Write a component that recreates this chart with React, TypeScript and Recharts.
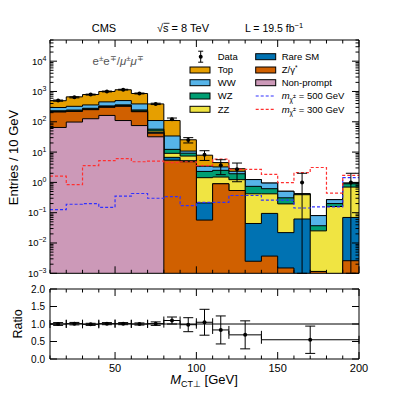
import React from 'react';
import { ComposedChart, Area, Line, Scatter, ErrorBar, XAxis, YAxis, ReferenceLine } from 'recharts';

const FONT = '"Liberation Sans", Arial, Helvetica, sans-serif';

// ---------- data (Entries / 10 GeV), bins of 10 GeV from 10 to 200 ----------
const binLowEdges = [10, 20, 30, 40, 50, 60, 70, 80, 90, 100, 110, 120, 130, 140, 150, 160, 170, 180, 190];
const xMax = 200;

const nonPrompt = [65, 98, 126, 162, 110, 75, 32, 0, 0, 0, 0, 0, 0, 0, 0, 0, 0, 0, 0];
const zGamma = [145, 122, 125, 138, 214, 140, 10, 5.4, 4.8, 0.057, 0.9, 0.54, 0.0025, 0.0037, 0.0015, 0, 0.00115, 0, 0.0026];
const rareSM = [3, 3, 4, 5, 5, 4, 3, 1.3, 0.4, 0.153, 0, 0, 0.0415, 0.091, 0.0205, 0.062, 0, 0, 0.067];
const zz = [6, 7, 8, 10, 11, 9, 5, 2.4, 2.2, 1.22, 0.6, 0.69, 0.376, 0.325, 0.173, 0.33, 0.024, 0.16, 0.63];
const wz = [12, 14, 16, 20, 22, 18, 7, 3.2, 1.8, 0.87, 1.0, 0.7, 0.32, 0.2, 0.115, 0.02, 0.012, 0.04, 0.2];
const ww = [65, 80, 81, 119, 139, 143, 53, 21.7, 1.6, 1.1, 0.74, 0.4, 0.5, 0.33, 0.2, 0.01, 0.043, 0.07, 0.05];
const topQuark = [200, 340, 434, 546, 639, 469, 279, 76, 14.7, 4.5, 1.26, 0.5, 0, 0, 0, 0, 0, 0, 0];

const sig500 = [0.126, 0.19, 0.2, 0.15, 0.35, 0.43, 0.3, 0.34, 0.17, 0.22, 0.22, 0.37, 0.37, 0.26, 0.26, 0.143, 0.155, 0.155, 1.43];
const sig300 = [1.6, 0.85, 3.6, 5.2, 6.1, 4.8, 5.0, 4.5, 4.8, 3.6, 5.9, 2.7, 2.7, 1.85, 0.98, 2.1, 3.1, 0.44, 1.7];

const dataCounts: (number | null)[] = [500, 640, 790, 1000, 1150, 860, 390, 122, 25, 8.2, 3.7, 2.7, null, null, null, 1.0, null, null, 1.0];
const dataErrLow = [22, 25, 28, 32, 34, 29, 20, 11, 5, 2.9, 1.9, 1.65, 0, 0, 0, 0.999, 0, 0, 0.999];
const dataErrHigh = [22, 25, 28, 32, 34, 29, 20, 11, 5, 2.9, 1.9, 1.65, 0, 0, 0, 1.0, 0, 0, 1.0];

// ratio panel
const ratioCenters = [15, 25, 35, 45, 55, 65, 75, 85, 95, 105, 115, 130, 170];
const ratioHalfWidths = [5, 5, 5, 5, 5, 5, 5, 5, 5, 5, 5, 10, 30];
const ratioValues = [1.0, 1.01, 0.99, 1.01, 1.01, 1.0, 1.01, 1.1, 0.98, 1.05, 0.83, 0.69, 0.55];
const ratioErrors = [0.04, 0.035, 0.03, 0.03, 0.03, 0.03, 0.05, 0.1, 0.2, 0.37, 0.4, 0.4, 0.39];

// ticks
const xTicks = [10, 20, 30, 40, 50, 60, 70, 80, 90, 100, 110, 120, 130, 140, 150, 160, 170, 180, 190, 200];
const yMajorTicks = [1e-3, 1e-2, 1e-1, 1, 10, 100, 1000, 10000];
const yMax = 5e4;
const ratioTicks = [0, 0.5, 1, 1.5, 2];

// ---------- tables built from the arrays ----------
const FLOOR = 1e-4;
const layers = [nonPrompt, zGamma, rareSM, zz, wz, ww, topQuark];
const layerKeys = ['cNP', 'cZ', 'cRare', 'cZZ', 'cWZ', 'cWW', 'cTop'];

const histRows = [...binLowEdges, xMax].map((x, i) => {
  const b = Math.min(i, binLowEdges.length - 1);
  const row: any = { x };
  let s = 0;
  layers.forEach((arr, k) => {
    s += arr[b];
    row[layerKeys[k]] = Math.max(s, FLOOR);
  });
  row.s300 = sig300[b];
  row.s500 = sig500[b];
  return row;
});

const dataRows = binLowEdges
  .map((lo, i) => ({ x: lo + 5, y: dataCounts[i], err: [dataErrLow[i], dataErrHigh[i]] }))
  .filter((r) => r.y !== null);

const ratioRows = ratioCenters.map((x, i) => ({ x, y: ratioValues[i], xerr: ratioHalfWidths[i], yerr: ratioErrors[i] }));

const yTicksAll: number[] = [];
yMajorTicks.forEach((d) => {
  for (let k = 1; k <= 9; k++) {
    const v = d * k;
    if (v <= yMax * 1.0001) yTicksAll.push(v);
  }
});

const colors = {
  top: '#E69F00',
  ww: '#56B4E9',
  wz: '#009E73',
  zz: '#F0E442',
  rare: '#0072B2',
  z: '#D06000',
  np: '#CC99B8',
  s500: '#3030FF',
  s300: '#FF3030',
};

// ---------- tick renderers ----------
const MAJ = 7;
const MIN = 3.5;

const xTick = (side: 'bottom' | 'top', labels: boolean) => (p: any) => {
  const v = p.payload.value;
  const major = Math.abs(v % 50) < 1e-6;
  const len = major ? MAJ : MIN;
  const dir = side === 'bottom' ? -1 : 1;
  return (
    <g>
      <line x1={p.x} x2={p.x} y1={p.y} y2={p.y + dir * len} stroke="#000" strokeWidth={1} />
      {labels && major ? (
        <text x={p.x} y={p.y + 13} textAnchor="middle" fontSize={11} fontFamily={FONT} fill="#000">
          {v}
        </text>
      ) : null}
    </g>
  );
};

const logTick = (side: 'left' | 'right', labels: boolean) => (p: any) => {
  const v = p.payload.value;
  const lg = Math.log10(v);
  const e = Math.round(lg);
  const major = Math.abs(lg - e) < 1e-6;
  const len = major ? MAJ : MIN;
  const dir = side === 'left' ? 1 : -1;
  return (
    <g>
      <line x1={p.x} x2={p.x + dir * len} y1={p.y} y2={p.y} stroke="#000" strokeWidth={1} />
      {labels && major ? (
        <text x={p.x - 3.5} y={p.y + 3.5} textAnchor="end" fontSize={9.5} fontFamily={FONT} fill="#000">
          10
          <tspan dy={-4} fontSize={7}>
            {e < 0 ? '\u2212' + -e : String(e)}
          </tspan>
        </text>
      ) : null}
    </g>
  );
};

const linTick = (side: 'left' | 'right', labels: boolean) => (p: any) => {
  const v = p.payload.value;
  const dir = side === 'left' ? 1 : -1;
  return (
    <g>
      <line x1={p.x} x2={p.x + dir * MAJ} y1={p.y} y2={p.y} stroke="#000" strokeWidth={1} />
      {labels ? (
        <text x={p.x - 5} y={p.y + 3.5} textAnchor="end" fontSize={10} fontFamily={FONT} fill="#000">
          {v.toFixed(1)}
        </text>
      ) : null}
    </g>
  );
};

const dot = (p: any) => <circle cx={p.cx} cy={p.cy} r={2} fill="#000" />;

const axisLine = { stroke: '#000', strokeWidth: 1 };

function Legend() {
  const rows = [56.7, 70, 82.7, 96, 109.3];
  const c1box = 190;
  const c1txt = 217.7;
  const c2box = 255.7;
  const c2txt = 281.7;
  const bw = 20;
  const bh = 6;
  const fs = 9.5;
  const box = (x: number, y: number, fill: string) => (
    <rect x={x} y={y - bh / 2} width={bw} height={bh} fill={fill} stroke="#000" strokeWidth={1} />
  );
  const txt = (x: number, y: number, children: any) => (
    <text x={x} y={y + 3.4} fontSize={fs} fontFamily={FONT} fill="#000">
      {children}
    </text>
  );
  const mchi = (val: string) => (
    <>
      <tspan fontStyle="italic">m</tspan>
      <tspan dy={2.5} fontSize={6.5}>{'\u03C7\u0303'}</tspan>
      <tspan dy={-4} fontSize={5.5}>±</tspan>
      <tspan dy={1.5} fontSize={fs}>{' = ' + val + ' GeV'}</tspan>
    </>
  );
  const mx = c1box + 10.7;
  return (
    <g>
      <line x1={mx} x2={mx} y1={rows[0] - 5.5} y2={rows[0] + 5.5} stroke="#000" />
      <line x1={mx - 2.5} x2={mx + 2.5} y1={rows[0] - 5.5} y2={rows[0] - 5.5} stroke="#000" />
      <line x1={mx - 2.5} x2={mx + 2.5} y1={rows[0] + 5.5} y2={rows[0] + 5.5} stroke="#000" />
      <circle cx={mx} cy={rows[0]} r={2} fill="#000" />
      {txt(c1txt, rows[0], 'Data')}
      {box(c1box, rows[1], colors.top)}
      {txt(c1txt, rows[1], 'Top')}
      {box(c1box, rows[2], colors.ww)}
      {txt(c1txt, rows[2], 'WW')}
      {box(c1box, rows[3], colors.wz)}
      {txt(c1txt, rows[3], 'WZ')}
      {box(c1box, rows[4], colors.zz)}
      {txt(c1txt, rows[4], 'ZZ')}
      {box(c2box, rows[0], colors.rare)}
      {txt(c2txt, rows[0], 'Rare SM')}
      {box(c2box, rows[1], colors.z)}
      {txt(c2txt, rows[1], (
        <>
          Z/γ<tspan dy={-3.5} fontSize={6.5}>*</tspan>
        </>
      ))}
      {box(c2box, rows[2], colors.np)}
      {txt(c2txt, rows[2], 'Non-prompt')}
      <line x1={c2box} x2={c2box + bw} y1={rows[3]} y2={rows[3]} stroke={colors.s500} strokeWidth={1.2} strokeDasharray="3 2" />
      {txt(c2txt, rows[3], mchi('500'))}
      <line x1={c2box} x2={c2box + bw} y1={rows[4]} y2={rows[4]} stroke={colors.s300} strokeWidth={1.2} strokeDasharray="3 2" />
      {txt(c2txt, rows[4], mchi('300'))}
    </g>
  );
}

export default function App() {
  return (
    <div style={{ position: 'absolute', left: 0, top: 0, width: 399, height: 399, background: '#fff', fontFamily: FONT }}>
      <div style={{ position: 'absolute', left: 0, top: 0 }}>
        <ComposedChart width={399} height={290} data={histRows} margin={{ top: 30, right: 30, bottom: 6.7, left: 10 }}>
          <XAxis xAxisId="m" dataKey="x" type="number" domain={[10, 200]} allowDataOverflow ticks={xTicks} interval={0}
            orientation="bottom" height={10} tickSize={0} tickMargin={0} tickLine={false} tick={xTick('bottom', false)} axisLine={axisLine} />
          <XAxis xAxisId="mt" dataKey="x" type="number" domain={[10, 200]} allowDataOverflow ticks={xTicks} interval={0}
            orientation="top" height={10} tickSize={0} tickMargin={0} tickLine={false} tick={xTick('top', false)} axisLine={axisLine} />
          <YAxis yAxisId="m" type="number" scale="log" domain={[1e-3, yMax]} allowDataOverflow ticks={yTicksAll} interval={0}
            orientation="left" width={40} tickSize={0} tickMargin={0} tickLine={false} tick={logTick('left', true)} axisLine={axisLine} />
          <YAxis yAxisId="mr" type="number" scale="log" domain={[1e-3, yMax]} allowDataOverflow ticks={yTicksAll} interval={0}
            orientation="right" width={10} tickSize={0} tickMargin={0} tickLine={false} tick={logTick('right', false)} axisLine={axisLine} />
          <Area xAxisId="m" yAxisId="m" type="stepAfter" dataKey="cTop" baseValue={1e-3} fill={colors.top} fillOpacity={1} stroke="#000" strokeWidth={1} dot={false} activeDot={false} isAnimationActive={false} />
          <Area xAxisId="m" yAxisId="m" type="stepAfter" dataKey="cWW" baseValue={1e-3} fill={colors.ww} fillOpacity={1} stroke="#000" strokeWidth={1} dot={false} activeDot={false} isAnimationActive={false} />
          <Area xAxisId="m" yAxisId="m" type="stepAfter" dataKey="cWZ" baseValue={1e-3} fill={colors.wz} fillOpacity={1} stroke="#000" strokeWidth={1} dot={false} activeDot={false} isAnimationActive={false} />
          <Area xAxisId="m" yAxisId="m" type="stepAfter" dataKey="cZZ" baseValue={1e-3} fill={colors.zz} fillOpacity={1} stroke="#000" strokeWidth={1} dot={false} activeDot={false} isAnimationActive={false} />
          <Area xAxisId="m" yAxisId="m" type="stepAfter" dataKey="cRare" baseValue={1e-3} fill={colors.rare} fillOpacity={1} stroke="#000" strokeWidth={1} dot={false} activeDot={false} isAnimationActive={false} />
          <Area xAxisId="m" yAxisId="m" type="stepAfter" dataKey="cZ" baseValue={1e-3} fill={colors.z} fillOpacity={1} stroke="#000" strokeWidth={1} dot={false} activeDot={false} isAnimationActive={false} />
          <Area xAxisId="m" yAxisId="m" type="stepAfter" dataKey="cNP" baseValue={1e-3} fill={colors.np} fillOpacity={1} stroke="#000" strokeWidth={1} dot={false} activeDot={false} isAnimationActive={false} />
          <Line xAxisId="m" yAxisId="m" type="stepAfter" dataKey="s500" stroke={colors.s500} strokeWidth={1.2} strokeDasharray="3 2" dot={false} activeDot={false} isAnimationActive={false} />
          <Line xAxisId="m" yAxisId="m" type="stepAfter" dataKey="s300" stroke={colors.s300} strokeWidth={1.2} strokeDasharray="3 2" dot={false} activeDot={false} isAnimationActive={false} />
          <Scatter xAxisId="m" yAxisId="m" data={dataRows} dataKey="y" shape={dot} isAnimationActive={false}>
            <ErrorBar dataKey="err" direction="y" width={5} stroke="#000" strokeWidth={1} />
          </Scatter>
        </ComposedChart>
      </div>
      <div style={{ position: 'absolute', left: 0, top: 279 }}>
        <ComposedChart width={399} height={120} data={ratioRows} margin={{ top: 0, right: 30, bottom: 30, left: 10 }}>
          <XAxis xAxisId="r" dataKey="x" type="number" domain={[10, 200]} allowDataOverflow ticks={xTicks} interval={0}
            orientation="bottom" height={10} tickSize={0} tickMargin={0} tickLine={false} tick={xTick('bottom', true)} axisLine={axisLine} />
          <XAxis xAxisId="rt" dataKey="x" type="number" domain={[10, 200]} allowDataOverflow ticks={xTicks} interval={0}
            orientation="top" height={10} tickSize={0} tickMargin={0} tickLine={false} tick={xTick('top', false)} axisLine={axisLine} />
          <YAxis yAxisId="r" type="number" domain={[0, 2]} allowDataOverflow ticks={ratioTicks} interval={0}
            orientation="left" width={40} tickSize={0} tickMargin={0} tickLine={false} tick={linTick('left', true)} axisLine={axisLine} />
          <YAxis yAxisId="rr" type="number" domain={[0, 2]} allowDataOverflow ticks={ratioTicks} interval={0}
            orientation="right" width={10} tickSize={0} tickMargin={0} tickLine={false} tick={linTick('right', false)} axisLine={axisLine} />
          <ReferenceLine xAxisId="r" yAxisId="r" y={1} stroke="#000" strokeWidth={1} />
          <Scatter xAxisId="r" yAxisId="r" dataKey="y" shape={dot} isAnimationActive={false}>
            <ErrorBar dataKey="xerr" direction="x" width={4} stroke="#000" strokeWidth={1} />
            <ErrorBar dataKey="yerr" direction="y" width={5} stroke="#000" strokeWidth={1} />
          </Scatter>
        </ComposedChart>
      </div>
      <svg width={399} height={399} style={{ position: 'absolute', left: 0, top: 0, pointerEvents: 'none' }}>
        <text x={104} y={32} textAnchor="middle" fontSize={11} fontFamily={FONT} fill="#000">CMS</text>
        <text x={157} y={32} fontSize={11} fontFamily={FONT} fill="#000">√s = 8 TeV</text>
        <line x1={163.5} x2={169.5} y1={23.3} y2={23.3} stroke="#000" strokeWidth={0.8} />
        <text x={245} y={32} fontSize={10.5} fontFamily={FONT} fill="#000">
          L = 19.5 fb<tspan dy={-4.5} fontSize={7.5}>{'\u22121'}</tspan>
        </text>
        <text x={92.5} y={65} fontSize={11.5} fontFamily={FONT} fill="#555">
          e<tspan dy={-4.5} fontSize={8}>±</tspan>
          <tspan dy={4.5}>e</tspan>
          <tspan dy={-4.5} fontSize={8}>∓</tspan>
          <tspan dy={4.5}>/</tspan>
          <tspan fontStyle="italic">μ</tspan>
          <tspan dy={-4.5} fontSize={8}>±</tspan>
          <tspan dy={4.5} fontStyle="italic">μ</tspan>
          <tspan dy={-4.5} fontSize={8}>∓</tspan>
        </text>
        <Legend />
        <text transform="translate(18,157.5) rotate(-90)" textAnchor="middle" fontSize={13} fontFamily={FONT} fill="#000">
          Entries / 10 GeV
        </text>
        <text transform="translate(22,324) rotate(-90)" textAnchor="middle" fontSize={12.5} fontFamily={FONT} fill="#000">
          Ratio
        </text>
        <text x={204} y={384} textAnchor="middle" fontSize={13} fontFamily={FONT} fill="#000">
          <tspan fontStyle="italic">M</tspan>
          <tspan dy={3} fontSize={9}>CT⊥</tspan>
          <tspan dy={-3}> [GeV]</tspan>
        </text>
      </svg>
    </div>
  );
}
